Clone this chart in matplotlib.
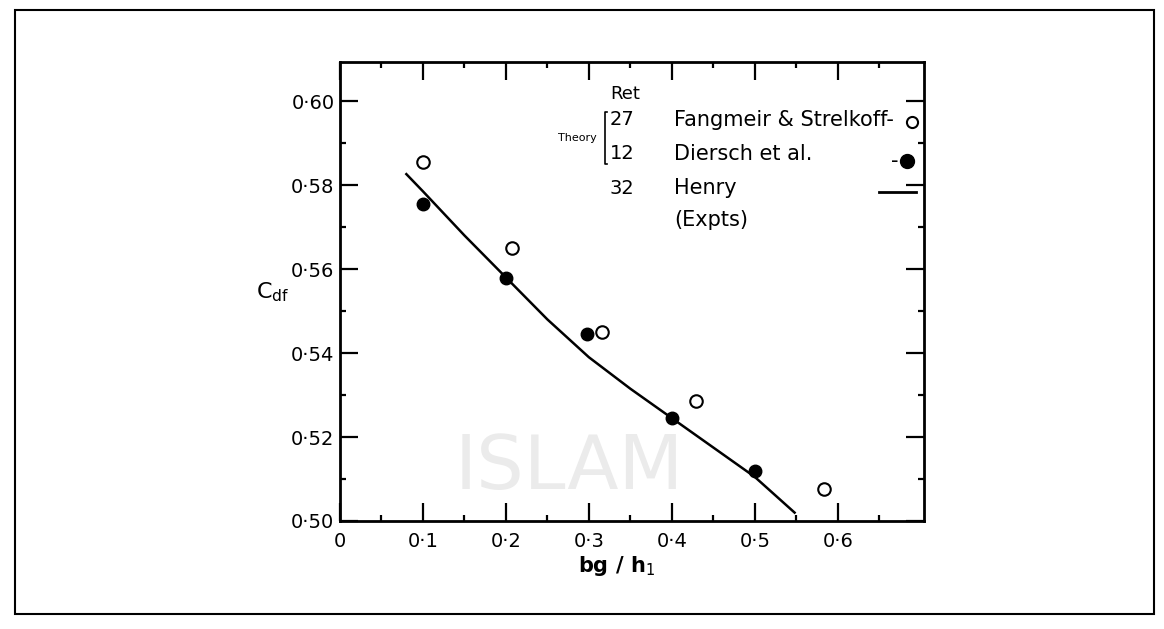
import matplotlib.pyplot as plt
from matplotlib.lines import Line2D
from matplotlib.patches import Rectangle

# --- Data ---
FANGMEIR_X = [0.100, 0.207, 0.316, 0.429, 0.583]
FANGMEIR_Y = [0.5855, 0.5650, 0.5450, 0.5286, 0.5076]

DIERSCH_X = [0.100, 0.200, 0.298, 0.400, 0.500]
DIERSCH_Y = [0.5755, 0.5578, 0.5445, 0.5245, 0.5120]

HENRY_X = [0.080, 0.100, 0.150, 0.200, 0.250, 0.300, 0.350, 0.400, 0.450, 0.500, 0.548]
HENRY_Y = [0.5826, 0.5785, 0.5680, 0.5580, 0.5480, 0.5390, 0.5315, 0.5245, 0.5175, 0.5105, 0.5020]

X_TICKS = [0, 0.1, 0.2, 0.3, 0.4, 0.5, 0.6]
X_TICK_LABELS = ["0", "0·1", "0·2", "0·3", "0·4", "0·5", "0·6"]
Y_TICKS = [0.50, 0.52, 0.54, 0.56, 0.58, 0.60]
Y_TICK_LABELS = ["0·50", "0·52", "0·54", "0·56", "0·58", "0·60"]

plt.rcParams["font.family"] = ["DejaVu Sans"]

fig = plt.figure(figsize=(11.64, 6.29), dpi=100)

# faint watermark behind the scan
fig.text(0.489, 0.255, "ISLAM", fontsize=54, color="#ebebeb",
         ha="center", va="center", zorder=0)

# outer frame of the scanned page
fig.patches.append(Rectangle((15 / 1164, 1 - 614 / 629), 1139 / 1164, 604 / 629,
                             transform=fig.transFigure, fill=False,
                             edgecolor="black", linewidth=1.5))

ax = fig.add_axes([340 / 1164, 1 - 521 / 629, 584 / 1164, 459 / 629])
ax.patch.set_alpha(0)

ax.plot(HENRY_X, HENRY_Y, color="black", linewidth=1.8)
ax.plot(DIERSCH_X, DIERSCH_Y, "o", color="black", markersize=9)
ax.plot(FANGMEIR_X, FANGMEIR_Y, "o", markerfacecolor="white",
        markeredgecolor="black", markeredgewidth=1.5, markersize=9)

ax.set_xlim(0, 0.704)
ax.set_ylim(0.50, 0.6093)
ax.set_xticks(X_TICKS)
ax.set_xticklabels(X_TICK_LABELS)
ax.set_yticks(Y_TICKS)
ax.set_yticklabels(Y_TICK_LABELS)
ax.set_xticks([0.05, 0.15, 0.25, 0.35, 0.45, 0.55, 0.65], minor=True)
ax.set_yticks([0.51, 0.53, 0.55, 0.57, 0.59], minor=True)
ax.tick_params(which="both", direction="in", top=True, right=True,
               width=1.6, labelsize=14)
ax.tick_params(which="major", length=13)
ax.tick_params(which="minor", length=4)
ax.tick_params(axis="y", pad=4)
ax.tick_params(axis="x", pad=8)
for sp in ax.spines.values():
    sp.set_linewidth(2)

ax.set_xlabel(r"bg / h$_1$", fontsize=15, fontweight="bold")
ax.xaxis.set_label_coords(0.474, -0.072)
ax.set_ylabel(r"C$_{\rm df}$", fontsize=16, rotation=0)
ax.yaxis.set_label_coords(-0.115, 0.473)

# hand-drawn style legend
tr = ax.transAxes
ax.text(0.488, 0.930, "Ret", transform=tr, fontsize=13, ha="center", va="center")
ax.text(0.440, 0.835, "Theory", transform=tr, fontsize=8, ha="right", va="center")
ax.add_line(Line2D([0.458, 0.454, 0.454, 0.458], [0.891, 0.891, 0.778, 0.778],
                   transform=tr, color="black", linewidth=1.2))
for y, ref, name in [(0.874, "27", "Fangmeir & Strelkoff-"),
                     (0.800, "12", "Diersch et al."),
                     (0.725, "32", "Henry")]:
    ax.text(0.462, y, ref, transform=tr, fontsize=14, va="center")
    ax.text(0.572, y, name, transform=tr, fontsize=15, va="center")
ax.text(0.572, 0.656, "(Expts)", transform=tr, fontsize=15, va="center")
ax.plot([0.979], [0.870], "o", transform=tr, markerfacecolor="white",
        markeredgecolor="black", markeredgewidth=1.5, markersize=8, clip_on=False)
ax.text(0.950, 0.784, "-", transform=tr, fontsize=15, va="center", ha="center")
ax.plot([0.971], [0.784], "o", transform=tr, color="black", markersize=10,
        clip_on=False)
ax.add_line(Line2D([0.923, 0.986], [0.717, 0.717], transform=tr,
                   color="black", linewidth=2))

fig.savefig("out.png", dpi=100)
